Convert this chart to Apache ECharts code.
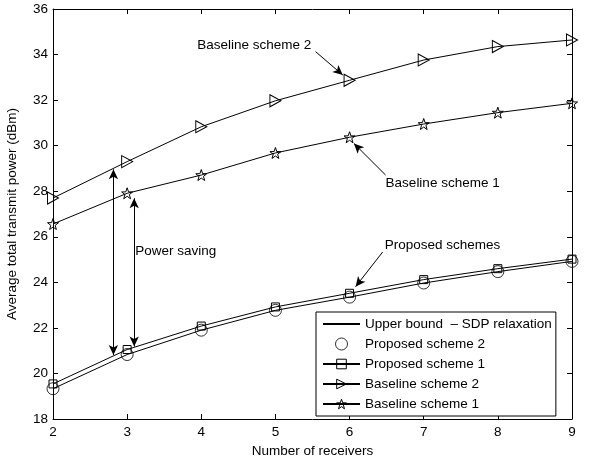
<!DOCTYPE html>
<html>
<head>
<meta charset="utf-8">
<script src="https://cdn.jsdelivr.net/npm/echarts@6/dist/echarts.min.js"></script>
<style>
  html, body { margin: 0; padding: 0; background: #fff; }
  #chart { width: 592px; height: 459px; }
</style>
</head>
<body>
<div id="chart"></div>
<script>
// Number of receivers on the horizontal axis
const receivers = [2, 3, 4, 5, 6, 7, 8, 9];

// Average total transmit power (dBm) per scheme
const upperBoundSDP   = [19.33, 20.83, 21.90, 22.77, 23.35, 23.97, 24.47, 24.92];
const proposedScheme2 = [19.33, 20.83, 21.90, 22.77, 23.35, 23.97, 24.47, 24.92];
const proposedScheme1 = [19.54, 21.05, 22.08, 22.92, 23.52, 24.12, 24.60, 25.02];
const baselineScheme2 = [27.70, 29.30, 30.83, 31.97, 32.87, 33.76, 34.35, 34.64];
const baselineScheme1 = [26.56, 27.91, 28.71, 29.68, 30.37, 30.95, 31.45, 31.86];

// Axis ticks
const xTicks = { min: 2, max: 9, interval: 1 };
const yTicks = { min: 18, max: 36, interval: 2 };

// Legend entries (drawn in this order)
const legendNames = [
  'Upper bound  \u2013 SDP relaxation',
  'Proposed scheme 2',
  'Proposed scheme 1',
  'Baseline scheme 2',
  'Baseline scheme 1'
];

// Text notes and their pointers, in data coordinates
const noteTexts = [
  { text: 'Baseline scheme 2', at: [3.946, 34.42] },
  { text: 'Baseline scheme 1', at: [6.486, 28.36] },
  { text: 'Proposed schemes',  at: [6.473, 25.64] },
  { text: 'Power saving',      at: [3.108, 25.38] }
];
const notePointers = [
  { from: [5.541, 34.13], to: [5.909, 33.10], both: false },
  { from: [6.486, 28.71], to: [6.058, 30.10], both: false },
  { from: [6.446, 25.33], to: [6.081, 23.81], both: false },
  { from: [2.815, 20.81], to: [2.815, 28.96], both: true },
  { from: [3.095, 21.18], to: [3.095, 27.69], both: true }
];

const FONT = 'Liberation Sans, Arial, Helvetica, sans-serif';
const FS = 13.5;

const pairs = vals => receivers.map((x, i) => [x, vals[i]]);

const triangleRight = 'path://M0,0 L10,5 L0,10 Z';
const pentagram = 'path://M10,0 L12.351,6.764 L19.511,6.910 L13.804,11.236 L15.878,18.090 L10,14 L4.122,18.090 L6.196,11.236 L0.489,6.910 L7.649,6.764 Z';

const clear = 'rgba(255,255,255,0)';
const hollow = { color: clear, borderColor: '#000', borderWidth: 1 };
const blackLine = { color: '#000', width: 1 };

const chart = echarts.init(document.getElementById('chart'), null, { renderer: 'canvas' });

const baseAxisStyle = {
  axisLine: { show: true, onZero: false, lineStyle: { color: '#000', width: 1 } },
  axisTick: { show: true, inside: true, length: 5, lineStyle: { color: '#000' } },
  splitLine: { show: false }
};

const option = {
  animation: false,
  backgroundColor: '#fff',
  textStyle: { fontFamily: FONT, color: '#000' },
  grid: {
    left: 53, right: 20, top: 9, bottom: 40,
    containLabel: false, outerBoundsMode: 'none'
  },
  xAxis: [
    Object.assign({
      type: 'value', position: 'bottom',
      min: xTicks.min, max: xTicks.max, interval: xTicks.interval,
      name: 'Number of receivers', nameLocation: 'middle', nameGap: 20,
      nameTextStyle: { fontFamily: FONT, fontSize: FS, color: '#000' },
      axisLabel: { fontFamily: FONT, fontSize: FS, color: '#000', margin: 6 }
    }, baseAxisStyle),
    Object.assign({
      type: 'value', position: 'top',
      min: xTicks.min, max: xTicks.max, interval: xTicks.interval,
      axisLabel: { show: false }
    }, baseAxisStyle)
  ],
  yAxis: [
    Object.assign({
      type: 'value', position: 'left',
      min: yTicks.min, max: yTicks.max, interval: yTicks.interval,
      name: 'Average total transmit power (dBm)', nameLocation: 'middle', nameGap: 34,
      nameTextStyle: { fontFamily: FONT, fontSize: FS, color: '#000' },
      axisLabel: { fontFamily: FONT, fontSize: FS, color: '#000', margin: 5 }
    }, baseAxisStyle),
    Object.assign({
      type: 'value', position: 'right',
      min: yTicks.min, max: yTicks.max, interval: yTicks.interval,
      axisLabel: { show: false }
    }, baseAxisStyle)
  ],
  legend: {
    data: legendNames.map((name, i) => ({
      name,
      // the bound is a plain line: keep its legend marker invisible
      itemStyle: i === 0
        ? { color: clear, borderColor: clear, borderWidth: 0 }
        : { color: clear, borderColor: '#000', borderWidth: 1 }
    })),
    orient: 'vertical',
    left: 316, top: 312,
    padding: [5, 4, 5, 6],
    itemGap: 6,
    itemWidth: 37, itemHeight: 12,
    selectedMode: false,
    backgroundColor: '#fff',
    borderColor: '#000', borderWidth: 1, borderRadius: 0,
    textStyle: { fontFamily: FONT, fontSize: FS, color: '#000' }
  },
  series: [
    {
      name: legendNames[0], type: 'line', data: pairs(upperBoundSDP),
      symbol: 'none', lineStyle: blackLine,
      itemStyle: { color: clear, borderWidth: 0 },
      silent: true, z: 2
    },
    {
      name: legendNames[1], type: 'scatter', data: pairs(proposedScheme2),
      symbol: 'circle', symbolSize: 12, itemStyle: hollow, silent: true, z: 3
    },
    {
      name: legendNames[2], type: 'line', data: pairs(proposedScheme1),
      symbol: 'rect', symbolSize: 8, showAllSymbol: true,
      itemStyle: hollow, lineStyle: blackLine, silent: true, z: 3
    },
    {
      name: legendNames[3], type: 'line', data: pairs(baselineScheme2),
      symbol: triangleRight, symbolSize: [11, 12], showAllSymbol: true,
      itemStyle: hollow, lineStyle: blackLine, silent: true, z: 3
    },
    {
      name: legendNames[4], type: 'line', data: pairs(baselineScheme1),
      symbol: pentagram, symbolSize: 11, showAllSymbol: true,
      itemStyle: hollow, lineStyle: blackLine, silent: true, z: 3
    },
    {
      // Notes layer: pointer arrows
      name: 'notes', type: 'line', data: [], silent: true, z: 4,
      markLine: {
        silent: true,
        animation: false,
        symbol: ['none', 'arrow'],
        symbolSize: [7, 10],
        label: { show: false },
        lineStyle: { color: '#000', width: 1, type: 'solid' },
        emphasis: { disabled: true },
        data: notePointers.map(p => [
          { coord: p.from, symbol: p.both ? 'arrow' : 'none' },
          { coord: p.to, symbol: 'arrow' }
        ])
      }
    }
  ]
};

chart.setOption(option);

// Captions for the notes, placed through the grid's coordinate system
chart.setOption({
  graphic: noteTexts.map(n => {
    const p = chart.convertToPixel({ gridIndex: 0 }, n.at);
    return {
      type: 'text', x: p[0], y: p[1], silent: true, z: 10,
      style: {
        text: n.text, fill: '#000', font: FS + 'px ' + FONT,
        align: 'left', verticalAlign: 'middle'
      }
    };
  })
});
</script>
</body>
</html>
